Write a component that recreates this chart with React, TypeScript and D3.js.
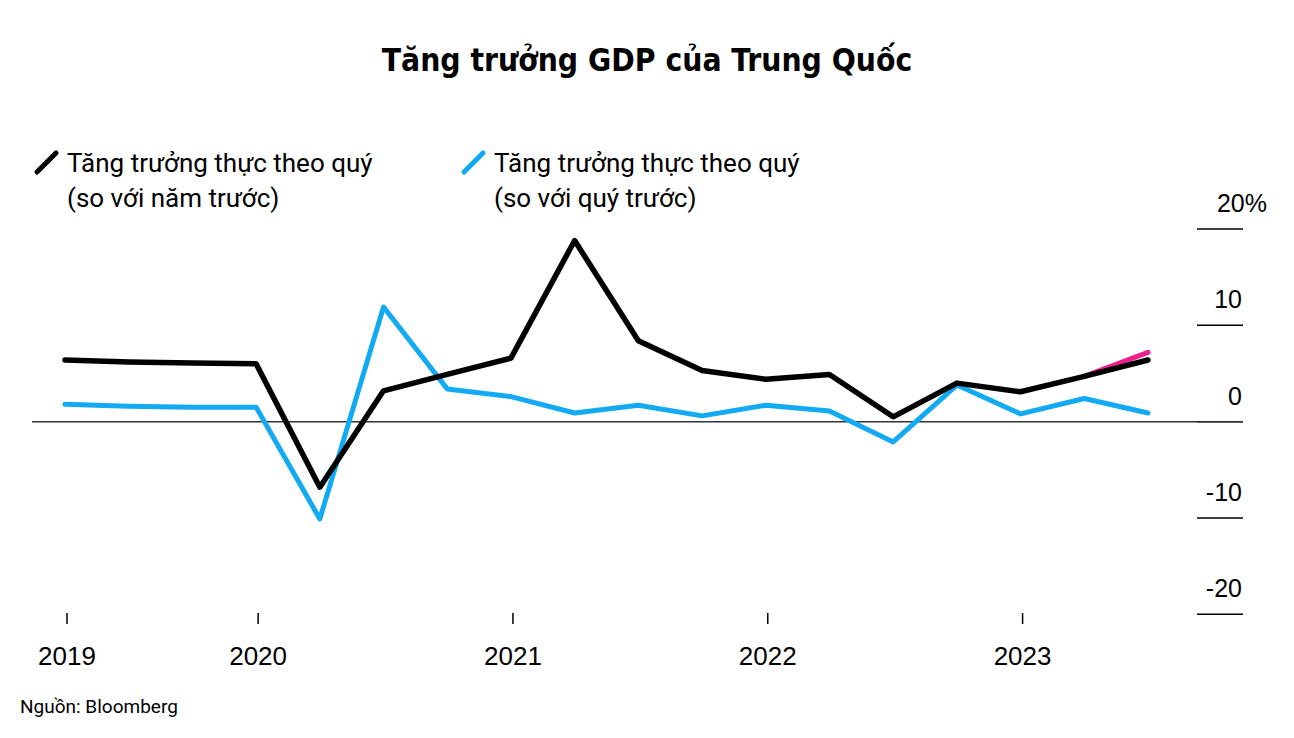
import React from "react";
import * as d3 from "d3";

// Quarterly real GDP growth, China (%)
const quarters = [
  "2019Q1", "2019Q2", "2019Q3", "2019Q4",
  "2020Q1", "2020Q2", "2020Q3", "2020Q4",
  "2021Q1", "2021Q2", "2021Q3", "2021Q4",
  "2022Q1", "2022Q2", "2022Q3", "2022Q4",
  "2023Q1", "2023Q2",
];
const yoyGrowth = [6.4, 6.2, 6.1, 6.0, -6.8, 3.2, 4.9, 6.6, 18.8, 8.4, 5.3, 4.4, 4.9, 0.5, 4.0, 3.1, 4.7, 6.4];
const qoqGrowth = [1.8, 1.6, 1.5, 1.5, -10.1, 11.9, 3.4, 2.6, 0.9, 1.7, 0.6, 1.7, 1.1, -2.1, 3.8, 0.8, 2.4, 0.9];
// Expected year-on-year path for the latest quarter
const expectedQuarters = ["2023Q1", "2023Q2"];
const expectedYoy = [4.7, 7.2];

const xTickQuarters = ["2019Q1", "2019Q4", "2020Q4", "2021Q4", "2022Q4"];
const xTickLabels = ["2019", "2020", "2021", "2022", "2023"];
const yTicks = [-20, -10, 0, 10, 20];
const yTickLabels = ["-20", "-10", "0", "10", "20%"];

const title = "Tăng trưởng GDP của Trung Quốc";
const legendItems = [
  { line1: "Tăng trưởng thực theo quý", line2: "(so với năm trước)" },
  { line1: "Tăng trưởng thực theo quý", line2: "(so với quý trước)" },
];
const source = "Nguồn: Bloomberg";

const BLACK = "#000000";
const BLUE = "#12aaf2";
const PINK = "#ee1e8e";

export default function App() {
  const width = 1294;
  const height = 738;

  const x = d3.scalePoint<string>().domain(quarters).range([65, 1148]);
  const y = d3.scaleLinear().domain([-20, 20]).range([614.3, 229]);

  const line = d3
    .line<[string, number]>()
    .x((d) => x(d[0]) as number)
    .y((d) => y(d[1]));

  const yoyPts = quarters.map((q, i) => [q, yoyGrowth[i]] as [string, number]);
  const qoqPts = quarters.map((q, i) => [q, qoqGrowth[i]] as [string, number]);
  const expPts = expectedQuarters.map((q, i) => [q, expectedYoy[i]] as [string, number]);

  const legendFont = "Roboto, 'Noto Sans', sans-serif";
  const numFont = "'Liberation Sans', Arial, sans-serif";

  return (
    <svg width={width} height={height} style={{ position: "absolute", left: 0, top: 0, background: "#fff" }}>
      <rect width={width} height={height} fill="#fff" />
      <text
        x={647}
        y={71}
        textAnchor="middle"
        fontFamily="'DejaVu Sans Condensed', 'DejaVu Sans', sans-serif"
        fontWeight={700}
        fontSize={31.5}
        fill="#000"
      >
        {title}
      </text>

      {/* legend */}
      <g>
        <line x1={37} y1={172} x2={56} y2={153} stroke={BLACK} strokeWidth={5} strokeLinecap="round" />
        <text x={67} y={172} fontFamily={legendFont} fontSize={26} fill="#000">{legendItems[0].line1}</text>
        <text x={67} y={207} fontFamily={legendFont} fontSize={26} fill="#000">{legendItems[0].line2}</text>
        <line x1={464} y1={172} x2={483} y2={153} stroke={BLUE} strokeWidth={5} strokeLinecap="round" />
        <text x={494} y={172} fontFamily={legendFont} fontSize={26} fill="#000">{legendItems[1].line1}</text>
        <text x={494} y={207} fontFamily={legendFont} fontSize={26} fill="#000">{legendItems[1].line2}</text>
      </g>

      {/* y axis ticks at right */}
      <g>
        {yTicks.map((t, i) => (
          <g key={t}>
            <line x1={1197} x2={1243} y1={y(t)} y2={y(t)} stroke="#000" strokeWidth={1.5} />
            <text
              x={i === yTicks.length - 1 ? 1267 : 1242}
              y={y(t) - 17}
              textAnchor="end"
              fontFamily={numFont}
              fontSize={25}
              fill="#000"
            >
              {yTickLabels[i]}
            </text>
          </g>
        ))}
      </g>

      {/* zero line */}
      <line x1={32} x2={1243} y1={y(0)} y2={y(0)} stroke="#333" strokeWidth={1.5} />

      {/* x axis */}
      <g>
        {xTickQuarters.map((q, i) => (
          <g key={q}>
            <line x1={(x(q) as number) + 2} x2={(x(q) as number) + 2} y1={613} y2={624} stroke="#000" strokeWidth={1.5} />
            <text x={(x(q) as number) + 2} y={665} textAnchor="middle" fontFamily={numFont} fontSize={26} fill="#000">
              {xTickLabels[i]}
            </text>
          </g>
        ))}
      </g>

      {/* series */}
      <path d={line(qoqPts) || ""} fill="none" stroke={BLUE} strokeWidth={5} strokeLinejoin="round" strokeLinecap="round" />
      <path d={line(expPts) || ""} fill="none" stroke={PINK} strokeWidth={5} strokeLinejoin="round" strokeLinecap="round" />
      <path d={line(yoyPts) || ""} fill="none" stroke={BLACK} strokeWidth={5.5} strokeLinejoin="round" strokeLinecap="round" />

      <text x={20} y={713} fontFamily={legendFont} fontSize={19} fill="#000">{source}</text>
    </svg>
  );
}
